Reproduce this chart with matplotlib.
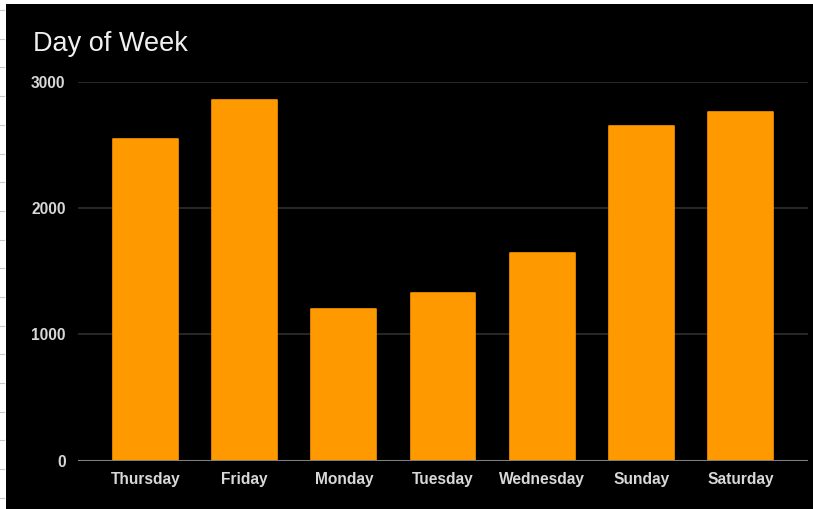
import matplotlib
matplotlib.use("Agg")
from matplotlib import pyplot as plt
from matplotlib.patches import Rectangle
from matplotlib.lines import Line2D

days = ["Thursday", "Friday", "Monday", "Tuesday", "Wednesday", "Sunday", "Saturday"]
counts = [2545, 2858, 1200, 1330, 1642, 2652, 2763]
y_ticks = [0, 1000, 2000, 3000]

W, H = 813, 509
fig = plt.figure(figsize=(W / 100, H / 100), dpi=100, facecolor="black")

# sheet chrome: white strip on left and top with small row ticks
fig.add_artist(Rectangle((0, 0), 6 / W, 1, transform=fig.transFigure,
                         facecolor="white", edgecolor="none"))
fig.add_artist(Rectangle((0, 1 - 4 / H), 1, 4 / H, transform=fig.transFigure,
                         facecolor="white", edgecolor="none"))
y = 10.0
while y < H:
    fig.add_artist(Line2D([0, 4 / W], [1 - y / H, 1 - y / H], transform=fig.transFigure,
                          color="#c8c8c8", lw=0.8))
    y += 28.7

ax = fig.add_axes([78 / W, (H - 460.7) / H, 730 / W, (460.7 - 81.7) / H])
ax.set_facecolor("black")

ax.bar(range(len(days)), counts, width=0.655, color="#ff9900",
       edgecolor="#ff9900", linewidth=1.2, joinstyle="round", zorder=3)

ax.set_xlim(-0.68, 6.68)
ax.set_ylim(0, 3000)
ax.set_yticks(y_ticks)
ax.set_yticklabels([str(v) for v in y_ticks])
ax.set_xticks(range(len(days)))
ax.set_xticklabels(days)

ax.grid(axis="y", color="#2e2e2e", lw=1.2, zorder=0)
ax.axhline(0, color="#808080", lw=2.2, zorder=4)
for s in ax.spines.values():
    s.set_visible(False)

ax.tick_params(length=0, colors="#d8d8d8")
ax.tick_params(axis="y", pad=9)
ax.tick_params(axis="x", pad=8)
for lab in ax.get_xticklabels() + ax.get_yticklabels():
    lab.set_fontfamily("Liberation Sans")
    lab.set_fontweight("bold")
    lab.set_fontsize(11.2)
    lab.set_color("#d8d8d8")

fig.text(33 / W, 1 - 44 / H, "Day of Week", color="#f0f0f0", fontsize=19.5,
         fontfamily="Liberation Sans", va="center", ha="left")

fig.savefig("out.png", dpi=100, facecolor="black")
